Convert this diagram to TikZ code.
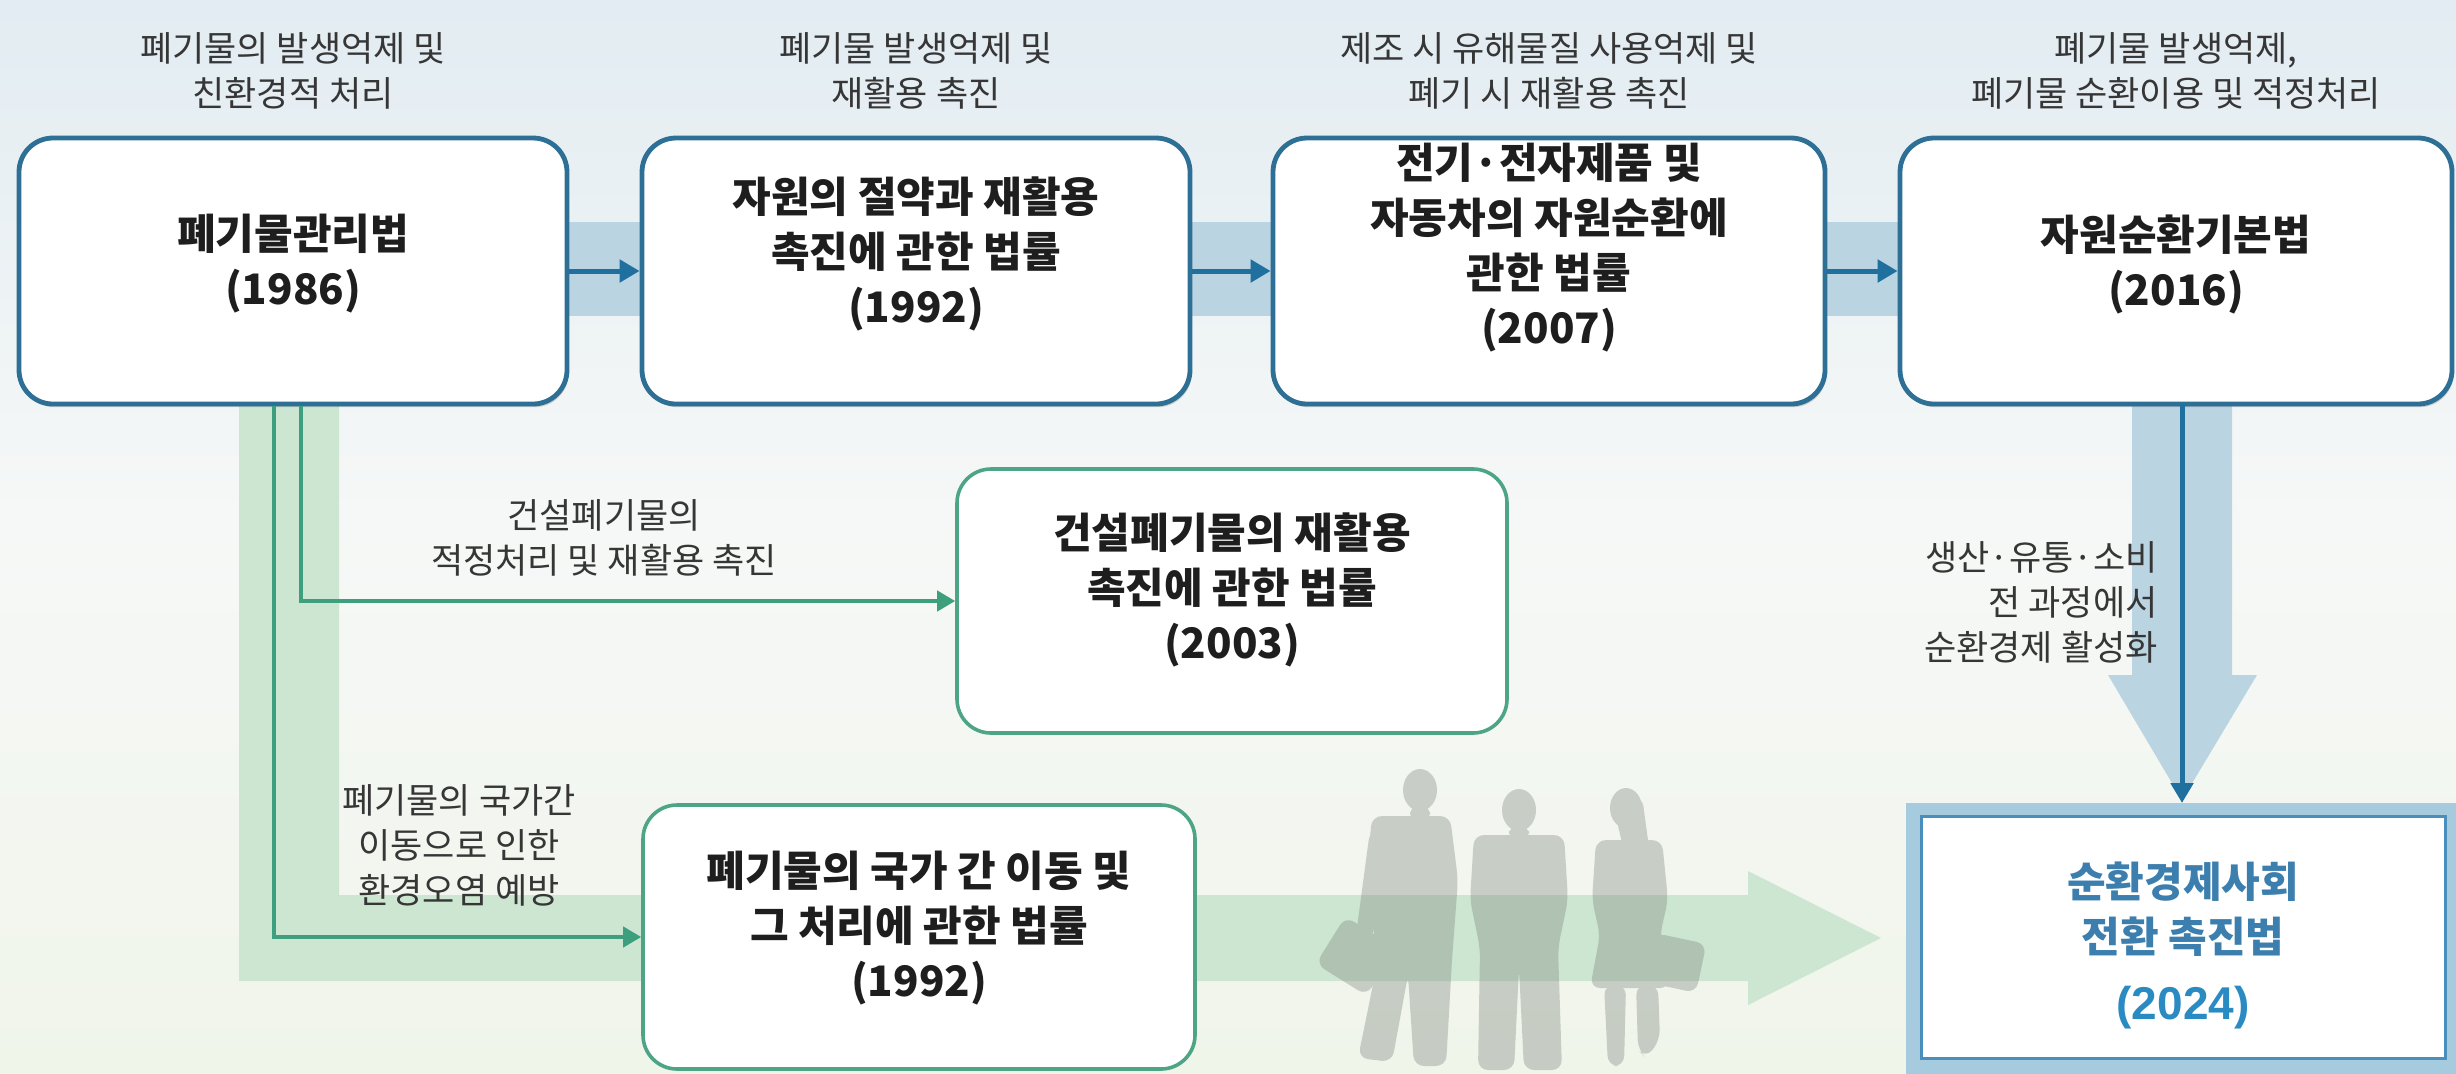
\documentclass[tikz,border=0pt]{standalone}
\usepackage{fontspec}
\setmainfont{Noto Sans CJK KR}
\newfontfamily\numfont{Liberation Sans}
\usetikzlibrary{arrows.meta,shadows}

\definecolor{boxblue}{HTML}{2E6F95}
\definecolor{arrblue}{HTML}{1F6F9F}
\definecolor{bandblue}{HTML}{BBD4E1}
\definecolor{linegreen}{HTML}{3E9F7E}
\definecolor{boxgreen}{HTML}{4DA586}
\definecolor{bandgreen}{HTML}{CDE6D2}
\definecolor{labelgray}{HTML}{363636}
\definecolor{titleink}{HTML}{1E1E1E}
\definecolor{frameblue}{HTML}{A6CADE}
\definecolor{innerblue}{HTML}{4A8EBB}
\definecolor{newink}{HTML}{3C7FAE}
\definecolor{yearink}{HTML}{2A8BC3}
\definecolor{bgtop}{HTML}{E2ECF2}
\definecolor{bgmid}{HTML}{F6F8F7}
\definecolor{bgbot}{HTML}{F0F5EA}
\definecolor{figgray}{HTML}{7E867E}

\tikzset{
  topbox/.style={draw=boxblue, line width=2.4pt, fill=white, rounded corners=17pt,
    minimum width=274pt, minimum height=133pt, inner sep=0pt,
    drop shadow={shadow xshift=0.8pt, shadow yshift=-1.6pt, opacity=0.35}},
  greenbox/.style={draw=boxgreen, line width=1.8pt, fill=white, rounded corners=17pt,
    minimum height=132pt, inner sep=0pt},
  titletext/.style={align=center, text=titleink, inner sep=0pt,
    font=\fontsize{21}{27.5}\selectfont\bfseries},
  notetext/.style={align=center, text=labelgray, inner sep=0pt,
    font=\fontsize{17.5}{22.5}\selectfont},
  bluearrow/.style={draw=arrblue, line width=2.5pt,
    -{Triangle[length=10pt,width=11pt]}},
  greenarrow/.style={draw=linegreen, line width=2pt,
    -{Triangle[length=9pt,width=10pt]}},
  person/.style={fill=figgray, rounded corners=5pt},
}

\begin{document}
\begin{tikzpicture}[x=0.5pt,y=-0.5pt]
  % canvas
  \useasboundingbox (0,0) rectangle (2456,1073);
  \shade[top color=bgtop, bottom color=bgmid] (0,0) rectangle (2456,520);
  \shade[top color=bgmid, bottom color=bgbot] (0,520) rectangle (2456,1073);

  % broad guide bands behind the connectors
  \fill[bandgreen] (239,404) -- (339,404) -- (339,895) -- (1748,895)
     -- (1748,871) -- (1881,938) -- (1748,1005) -- (1748,981) -- (239,981) -- cycle;
  \fill[bandblue] (567,222) rectangle (1900,316);
  \fill[bandblue] (2132,404) -- (2232,404) -- (2232,675) -- (2257,675) -- (2182,800)
     -- (2108,675) -- (2132,675) -- cycle;

  % walking people, faint silhouettes
  \begin{scope}[transparency group, opacity=0.36]
    % man with briefcase
    \fill[person] (1420,790) ellipse [x radius=17, y radius=21];
    \fill[person] (1410,805) rectangle (1430,822);
    \fill[person] (1372,816) -- (1450,816) -- (1458,880) -- (1452,960) -- (1446,1066)
       -- (1414,1066) -- (1408,975) -- (1392,1062) -- (1358,1058) -- (1378,960)
       -- (1366,880) -- cycle;
    \fill[person] (1370,830) -- (1356,935) -- (1372,940) -- (1386,850) -- cycle;
    \fill[person, rotate around={-32:(1356,956)}] (1326,928) rectangle (1386,984);
    % man standing
    \fill[person] (1519,810) ellipse [x radius=17, y radius=21];
    \fill[person] (1509,825) rectangle (1529,840);
    \fill[person] (1474,835) -- (1564,835) -- (1568,900) -- (1558,948) -- (1562,1070)
       -- (1524,1070) -- (1519,968) -- (1514,1070) -- (1478,1070) -- (1480,948)
       -- (1470,900) -- cycle;
    % woman with bag
    \fill[person] (1626,808) ellipse [x radius=16, y radius=20];
    \fill[person] (1612,800) -- (1642,796) -- (1650,855) -- (1626,860) -- cycle;
    \fill[person] (1596,840) -- (1662,840) -- (1668,900) -- (1660,935) -- (1670,988)
       -- (1590,988) -- (1600,935) -- (1592,900) -- cycle;
    \fill[person] (1604,985) -- (1626,985) -- (1624,1066) -- (1608,1066) -- cycle;
    \fill[person] (1636,985) -- (1658,985) -- (1660,1040) -- (1646,1058) -- (1638,1050) -- cycle;
    \fill[person, rotate around={-12:(1676,962)}] (1650,938) rectangle (1702,988);
  \end{scope}

  % top row of laws
  \node[topbox] (b1) at (293,271) {};
  \node[topbox] (b2) at (916,271) {};
  \node[topbox, minimum width=276pt] (b3) at (1549,271) {};
  \node[topbox, minimum width=276pt] (b4) at (2176,271) {};

  \node[titletext] (t1) at (293,264) {폐기물관리법\\(1986)};
  \node[titletext] (t2) at (916,254) {자원의 절약과 재활용\\촉진에 관한 법률\\(1992)};
  \node[titletext] (t3) at (1549,248) {전기·전자제품 및\\자동차의 자원순환에\\관한 법률\\(2007)};
  \node[titletext] (t4) at (2176,264) {자원순환기본법\\(2016)};

  % purpose of each law
  \node[notetext] (n1) at (293,71) {폐기물의 발생억제 및\\친환경적 처리};
  \node[notetext] (n2) at (916,71) {폐기물 발생억제 및\\재활용 촉진};
  \node[notetext] (n3) at (1549,71) {제조 시 유해물질 사용억제 및\\폐기 시 재활용 촉진};
  \node[notetext] (n4) at (2176,71) {폐기물 발생억제,\\폐기물 순환이용 및 적정처리};

  % branch laws
  \node[greenbox, minimum width=275pt] (b5) at (1232,601) {};
  \node[titletext] (t5) at (1232,590) {건설폐기물의 재활용\\촉진에 관한 법률\\(2003)};
  \node[greenbox, minimum width=276pt] (b6) at (919,937) {};
  \node[titletext] (t6) at (919,928) {폐기물의 국가 간 이동 및\\그 처리에 관한 법률\\(1992)};

  % target law
  \node[fill=frameblue, minimum width=290pt, minimum height=145pt, inner sep=0pt,
        anchor=north west] (b7) at (1906,803) {};
  \node[draw=innerblue, line width=1.4pt, fill=white, minimum width=262pt,
        minimum height=121pt, inner sep=0pt, anchor=north west] (b7in) at (1920,815) {};
  \node[titletext, text=newink] (t7) at (2183,909) {순환경제사회\\전환 촉진법};
  \node[inner sep=0pt, text=yearink, font=\numfont\fontsize{23}{27}\selectfont\bfseries]
        (y7) at (2183,1008) {(2024)};

  % connectors
  \draw[bluearrow] (b1.east) -- (b2.west);
  \draw[bluearrow] (b2.east) -- (b3.west);
  \draw[bluearrow] (b3.east) -- (b4.west);
  \coordinate (down) at (2182,404);
  \draw[bluearrow] (down) -- (b7.north -| down);

  \coordinate (g1) at (301,406);
  \coordinate (g2) at (274,406);
  \draw[greenarrow] (g1) |- (b5.west);
  \draw[greenarrow] (g2) |- (b6.west);

  % connector notes
  \node[notetext] (n5) at (604,538) {건설폐기물의\\적정처리 및 재활용 촉진};
  \node[notetext] (n6) at (459,845) {폐기물의 국가간\\이동으로 인한\\환경오염 예방};
  \node[notetext, align=right, anchor=east] (n7) at (2158,602) {생산·유통·소비\\전 과정에서\\순환경제 활성화};
\end{tikzpicture}
\end{document}
